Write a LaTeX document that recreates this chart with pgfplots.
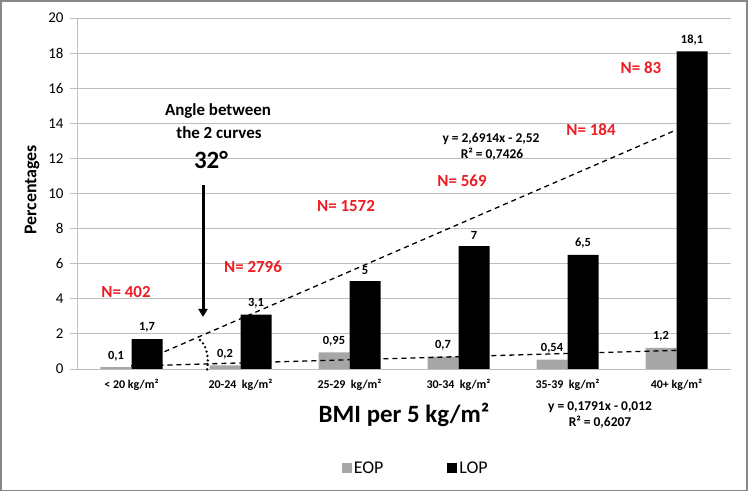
\documentclass[border=0pt]{standalone}
\usepackage{pgfplots}
\pgfplotsset{compat=1.18}
\usepackage{fontspec}
\setmainfont{Carlito}
\usetikzlibrary{arrows.meta}
\definecolor{eopgray}{RGB}{166,166,166}
\definecolor{gridgray}{RGB}{190,190,190}
\definecolor{nred}{RGB}{238,28,36}
\definecolor{framegray}{RGB}{135,135,135}
\begin{document}
\begin{tikzpicture}[x=1bp,y=1bp]
\useasboundingbox (-77,-123) rectangle (673,369);
\begin{axis}[
  at={(0,0)}, anchor=south west,
  scale only axis, width=654bp, height=351bp,
  xmin=0.5, xmax=6.5, ymin=0, ymax=20,
  ytick={0,2,...,20},
  ymajorgrids, grid style={gridgray, line width=0.8bp},
  axis x line*=bottom, axis y line*=left,
  axis line style={gridgray, line width=0.8bp},
  tick align=outside,
  major tick length=7bp, minor tick length=6bp,
  ytick style={gridgray, line width=0.8bp},
  xtick={1,...,6},
  xticklabels={{< 20 kg/m²},{20-24\ \ kg/m²},{25-29\ \ kg/m²},{30-34\ \ kg/m²},{35-39\ \ kg/m²},{40+ kg/m²}},
  xtick style={draw=none},
  minor xtick={0.5,1.5,...,6.5},
  minor x tick style={gridgray, line width=0.8bp},
  /pgf/number format/assume math mode=true,
  yticklabel style={font=\fontsize{15}{17}\selectfont, xshift=-3bp},
  xticklabel style={font=\bfseries\fontsize{12}{14}\selectfont},
  xlabel={BMI per 5 kg/m²},
  xlabel style={at={(axis description cs:0.5,-0.131)}, anchor=center, font=\bfseries\fontsize{25}{28}\selectfont},
  ylabel={Percentages},
  ylabel style={at={(axis description cs:-0.0688,0.51)}, anchor=center, rotate=0, font=\bfseries\fontsize{18}{20}\selectfont},
  legend style={at={(0.518,-0.282)}, anchor=center, draw=none, legend columns=2,
    font=\fontsize{18}{20}\selectfont,
    /tikz/every even column/.append style={column sep=62bp}},
  legend image code/.code={\fill[#1] (0bp,-5bp) rectangle (10bp,5bp);},
  nodes near coords style={font=\bfseries\fontsize{12.5}{14}\selectfont, black, yshift=3bp},
]
\addplot[ybar, bar width=31bp, bar shift=-15.5bp, fill=eopgray, draw=none]
  coordinates {(1,0.1) (2,0.2) (3,0.95) (4,0.7) (5,0.54) (6,1.2)};
\addplot[ybar, bar width=31bp, bar shift=15.5bp, fill=black, draw=none]
  coordinates {(1,1.7) (2,3.1) (3,5) (4,7) (5,6.5) (6,18.1)};
\legend{EOP, LOP}
\addplot[black, line width=1.3bp, dash pattern=on 5bp off 4bp, forget plot]
  coordinates {(1,0.1714) (6,13.6284)};
\addplot[black, line width=1.3bp, dash pattern=on 5bp off 4bp, forget plot]
  coordinates {(1,0.1671) (6,1.0626)};
% data labels on top of everything
\addplot[draw=none, forget plot, nodes near coords, point meta=explicit symbolic,
  every node near coord/.append style={xshift=-15.5bp}]
  coordinates {(1,0.1)[0,1] (2,0.2)[0,2] (3,0.95)[0,95] (4,0.7)[0,7] (5,0.54)[0,54] (6,1.2)[1,2]};
\addplot[draw=none, forget plot, nodes near coords, point meta=explicit symbolic,
  every node near coord/.append style={xshift=15.5bp}]
  coordinates {(1,1.7)[1,7] (2,3.1)[3,1] (3,5)[5] (4,7)[7] (5,6.5)[6,5] (6,18.1)[18,1]};
\end{axis}
% frame
\draw[framegray, line width=1.8bp] (-76,-121.5) rectangle (670,368);
% annotations
\node[font=\bfseries\fontsize{17}{19}\selectfont] at (141,258) {Angle between};
\node[font=\bfseries\fontsize{17}{19}\selectfont] at (142,236) {the 2 curves};
\node[font=\bfseries\fontsize{25}{28}\selectfont] at (134,209) {32°};
\draw[line width=3bp, -{Triangle[width=9bp,length=8bp]}] (126,184) -- (126,52);
\draw[line width=2.6bp, line cap=round, dash pattern=on 0bp off 4.5bp]
  (123,29) .. controls (131,22) and (132,8) .. (130,-1);
\begin{scope}[every node/.style={font=\bfseries\fontsize{17}{19}\selectfont, text=nred}]
\node at (49,77) {N= 402};
\node at (176,102) {N= 2796};
\node at (269,163) {N= 1572};
\node at (385,188) {N= 569};
\node at (514,239) {N= 184};
\node at (564,301) {N= 83};
\end{scope}
\begin{scope}[every node/.style={font=\bfseries\fontsize{13.5}{15}\selectfont}]
\node at (414,230) {y = 2,6914x - 2,52};
\node at (415,215) {R² = 0,7426};
\node at (523,-38) {y = 0,1791x - 0,012};
\node at (523,-53) {R² = 0,6207};
\end{scope}
\end{tikzpicture}
\end{document}
